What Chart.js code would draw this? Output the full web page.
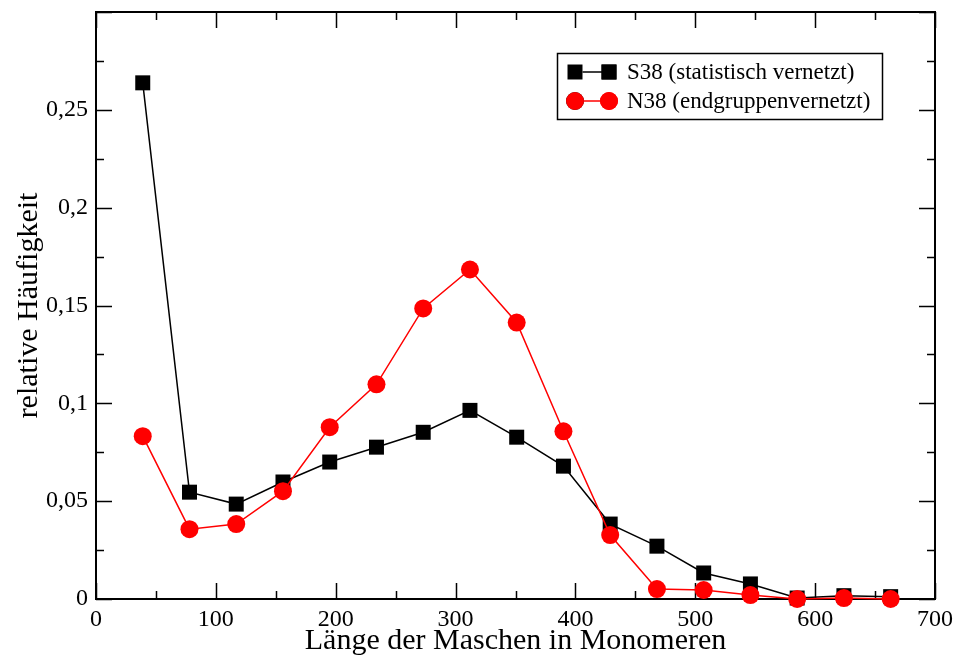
<!DOCTYPE html>
<html>
<head>
<meta charset="utf-8">
<script src="https://cdn.jsdelivr.net/npm/chart.js@4.4.0/dist/chart.umd.min.js"></script>
<style>
  html, body { margin: 0; padding: 0; background: #fff; }
  #wrap { width: 954px; height: 659px; position: relative; }
</style>
</head>
<body>
<div id="wrap"><canvas id="c" width="954" height="659"></canvas></div>
<script>
// ---- data ----
const meshLengths = [39, 78, 117, 156, 195, 234, 273, 312, 351, 390, 429, 468, 507, 546, 585, 624, 663];
const s38Values = [0.2638, 0.0546, 0.0485, 0.0598, 0.0700, 0.0776, 0.0852, 0.0964, 0.0827, 0.0679, 0.0383, 0.0270, 0.0133, 0.0077, 0.0005, 0.0017, 0.0012];
const n38Values = [0.0832, 0.0357, 0.0383, 0.0551, 0.0878, 0.1097, 0.1485, 0.1684, 0.1413, 0.0857, 0.0327, 0.0051, 0.0046, 0.0020, 0.0000, 0.0005, 0.0000];
const seriesLabels = ['S38 (statistisch vernetzt)', 'N38 (endgruppenvernetzt)'];
const xTitle = 'Länge der Maschen in Monomeren';
const yTitle = 'relative Häufigkeit';
const xMajor = 100, xMinor = 50, yMajor = 0.05, yMinor = 0.025;

const FONT = '"Liberation Serif", "Times New Roman", serif';

function toPoints(xs, ys) { return xs.map((x, i) => ({ x: x, y: ys[i] })); }

// frame + inward ticks on all four sides
const framePlugin = {
  id: 'frame',
  beforeDatasetsDraw(chart) {
    const { ctx, chartArea: a, scales } = chart;
    const xs = scales.x, ys = scales.y;
    ctx.save();
    ctx.strokeStyle = '#000';
    ctx.lineWidth = 1.5;
    const majL = 16, minL = 8;
    for (let v = xs.min; v <= xs.max + 1e-9; v += xMinor) {
      const isMajor = Math.abs(v / xMajor - Math.round(v / xMajor)) < 1e-6;
      const L = isMajor ? majL : minL;
      const px = Math.round(xs.getPixelForValue(v)) + 0.5;
      ctx.beginPath();
      ctx.moveTo(px, a.bottom); ctx.lineTo(px, a.bottom - L);
      ctx.moveTo(px, a.top); ctx.lineTo(px, a.top + L);
      ctx.stroke();
    }
    for (let v = ys.min; v <= ys.max + 1e-9; v += yMinor) {
      const isMajor = Math.abs(v / yMajor - Math.round(v / yMajor)) < 1e-6;
      const L = isMajor ? majL : minL;
      const py = Math.round(ys.getPixelForValue(v)) + 0.5;
      ctx.beginPath();
      ctx.moveTo(a.left, py); ctx.lineTo(a.left + L, py);
      ctx.moveTo(a.right, py); ctx.lineTo(a.right - L, py);
      ctx.stroke();
    }
    ctx.lineWidth = 2;
    ctx.strokeRect(a.left, a.top, a.right - a.left, a.bottom - a.top);
    ctx.restore();
  }
};

// legend box with marker-line-marker samples
const legendPlugin = {
  id: 'boxLegend',
  afterDraw(chart) {
    const { ctx } = chart;
    const bx = 557.5, by = 53.5, bw = 325, bh = 66;
    ctx.save();
    ctx.fillStyle = '#fff';
    ctx.fillRect(bx, by, bw, bh);
    ctx.strokeStyle = '#000';
    ctx.lineWidth = 1.5;
    ctx.strokeRect(bx, by, bw, bh);
    const rows = [72, 101];
    chart.data.datasets.forEach((ds, i) => {
      const y = rows[i];
      const x1 = 575, x2 = 609;
      ctx.strokeStyle = ds.borderColor;
      ctx.lineWidth = ds.borderWidth;
      ctx.beginPath(); ctx.moveTo(x1, y); ctx.lineTo(x2, y); ctx.stroke();
      [x1, x2].forEach(x => {
        Chart.helpers.drawPoint(ctx, {
          pointStyle: ds.pointStyle, radius: ds.pointRadius, borderWidth: 0, rotation: 0
        }, x, y);
        ctx.fillStyle = ds.pointBackgroundColor;
        ctx.fill();
      });
      ctx.fillStyle = '#000';
      ctx.font = '23px ' + FONT;
      ctx.textBaseline = 'middle';
      ctx.textAlign = 'left';
      ctx.fillText(ds.label, 627, y + 1);
    });
    ctx.restore();
  }
};

function fmt(v) {
  const r = +(+v).toFixed(4);
  return String(r).replace('.', ',');
}

new Chart(document.getElementById('c'), {
  type: 'line',
  data: {
    datasets: [
      {
        label: seriesLabels[0],
        data: toPoints(meshLengths, s38Values),
        borderColor: '#000',
        borderWidth: 1.5,
        pointStyle: 'rect',
        pointRadius: 10.6,
        pointBackgroundColor: '#000',
        pointBorderWidth: 0,
        pointHoverRadius: 10.6,
        order: 1,
        clip: false,
        tension: 0
      },
      {
        label: seriesLabels[1],
        data: toPoints(meshLengths, n38Values),
        borderColor: '#ff0000',
        borderWidth: 1.5,
        pointStyle: 'circle',
        pointRadius: 9,
        pointBackgroundColor: '#ff0000',
        pointBorderWidth: 0,
        pointHoverRadius: 9,
        order: 0,
        clip: false,
        tension: 0
      }
    ]
  },
  options: {
    responsive: false,
    animation: false,
    events: [],
    layout: { padding: { top: 12, right: 19, left: 0, bottom: 0 } },
    plugins: { legend: { display: false }, tooltip: { enabled: false } },
    scales: {
      x: {
        type: 'linear',
        min: 0, max: 700,
        grid: { display: false, drawTicks: false },
        border: { display: false },
        ticks: {
          stepSize: xMajor,
          color: '#000',
          font: { family: FONT, size: 24 },
          padding: 6,
          maxRotation: 0,
          callback: (v) => fmt(v)
        },
        title: {
          display: true, text: xTitle, color: '#000',
          font: { family: FONT, size: 30 },
          padding: { top: 0, bottom: 0 }
        },
        afterFit(scale) {
          scale.height = 60;
          scale.paddingLeft = 0; scale.paddingRight = 0;
        }
      },
      y: {
        type: 'linear',
        min: 0, max: 0.3,
        grid: { display: false, drawTicks: false },
        border: { display: false },
        ticks: {
          stepSize: yMajor,
          color: '#000',
          font: { family: FONT, size: 24 },
          padding: 8,
          callback: (v) => (Math.abs(v - 0.3) < 1e-6 ? '' : fmt(v))
        },
        title: {
          display: true, text: yTitle, color: '#000',
          font: { family: FONT, size: 30 },
          padding: { top: 11, bottom: 0 }
        },
        afterFit(scale) {
          scale.width = 96;
          scale.paddingTop = 0; scale.paddingBottom = 0;
        }
      }
    }
  },
  plugins: [framePlugin, legendPlugin]
});
</script>
</body>
</html>
